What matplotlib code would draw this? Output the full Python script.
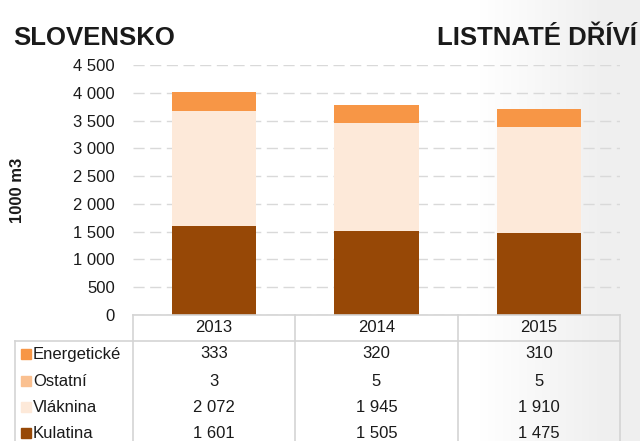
import numpy as np
import matplotlib
matplotlib.use("Agg")
import matplotlib.pyplot as plt
from matplotlib.lines import Line2D
from matplotlib.patches import Rectangle
import matplotlib.transforms as mtransforms

plt.rcParams['font.family'] = ['Liberation Sans', 'DejaVu Sans']

years = ["2013", "2014", "2015"]
series_names = ["Energetické", "Ostatní", "Vláknina", "Kulatina"]
energeticke = [333, 320, 310]
ostatni = [3, 5, 5]
vlaknina = [2072, 1945, 1910]
kulatina = [1601, 1505, 1475]
colors = {"Energetické": "#F79646", "Ostatní": "#FAC090",
          "Vláknina": "#FDE9D9", "Kulatina": "#974806"}
values = {"Energetické": energeticke, "Ostatní": ostatni,
          "Vláknina": vlaknina, "Kulatina": kulatina}
yticks = list(range(0, 4501, 500))

W, H = 640, 441
fig = plt.figure(figsize=(W / 100, H / 100), dpi=100)

# background gradient
bg = fig.add_axes([0, 0, 1, 1], zorder=-10)
xs = np.linspace(0, W, W)
g = np.clip((xs - 480) / 120, 0, 1)
vals = 1 - 0.06 * g
img = np.dstack([vals, vals, vals])[0][None, :, :].repeat(2, axis=0)
bg.imshow(img, aspect='auto', extent=[0, 1, 0, 1])
bg.axis('off')

def fx(px):
    return px / W

def fy(py):
    return 1 - py / H

ax_l, ax_r, ax_b, ax_t = 133, 620, 315, 65
ax = fig.add_axes([fx(ax_l), fy(ax_b), fx(ax_r - ax_l), (ax_b - ax_t) / H])
ax.patch.set_alpha(0)

x = np.arange(len(years))
bottom = np.zeros(len(years))
for name in ["Kulatina", "Vláknina", "Ostatní", "Energetické"]:
    v = np.array(values[name], dtype=float)
    ax.bar(x, v, 0.52, bottom=bottom, color=colors[name], zorder=3)
    bottom += v

ax.set_xlim(-0.5, 2.5)
ax.set_ylim(0, 4500)
ax.set_yticks(yticks)
ax.set_yticklabels([f"{t:,}".replace(",", " ") for t in yticks], fontsize=12, color="#1a1a1a")
ax.set_xticks([])
ax.tick_params(axis='y', length=0, pad=13)
for s in ax.spines.values():
    s.set_visible(False)
ax.yaxis.grid(True, color="#d9d9d9", linestyle=(0, (8, 4)), linewidth=1, zorder=0)
ax.set_axisbelow(True)

fig.text(fx(17), fy(190), "1000 m3", rotation=90, fontsize=12, fontweight='bold',
         ha='center', va='center', color="#1a1a1a")

fig.text(fx(13), fy(45), "SLOVENSKO", fontsize=18.5, fontweight='bold',
         ha='left', va='baseline', color="#1a1a1a")
fig.text(fx(637), fy(45), "LISTNATÉ DŘÍVÍ", fontsize=18.5, fontweight='bold',
         ha='right', va='baseline', color="#1a1a1a")

# table
lc = "#d4d4d4"
def hline(x0, x1, y):
    fig.add_artist(Line2D([fx(x0), fx(x1)], [fy(y), fy(y)], color=lc, lw=1.2))

def vline(xp, y0, y1):
    fig.add_artist(Line2D([fx(xp), fx(xp)], [fy(y0), fy(y1)], color=lc, lw=1.2))

hline(ax_l, ax_r, 315)
hline(15, ax_r, 341)
vline(15, 341, 445)
for xp in np.linspace(ax_l, ax_r, len(years) + 1):
    vline(xp, 315, 445)

tr = mtransforms.blended_transform_factory(ax.transData, fig.transFigure)
for i, yr in enumerate(years):
    fig.text(i, fy(328), yr, transform=tr, ha='center', va='center', fontsize=12, color="#1a1a1a")

row_y = [354, 381, 407, 433]
for name, ry in zip(series_names, row_y):
    fig.add_artist(Rectangle((fx(21), fy(ry + 5)), fx(10), 10 / H,
                             color=colors[name], transform=fig.transFigure))
    fig.text(fx(33), fy(ry), name, ha='left', va='center', fontsize=12, color="#1a1a1a")
    for i, v in enumerate(values[name]):
        fig.text(i, fy(ry), f"{v:,}".replace(",", " "), transform=tr,
                 ha='center', va='center', fontsize=12, color="#1a1a1a")

fig.savefig("out.png", dpi=100)
